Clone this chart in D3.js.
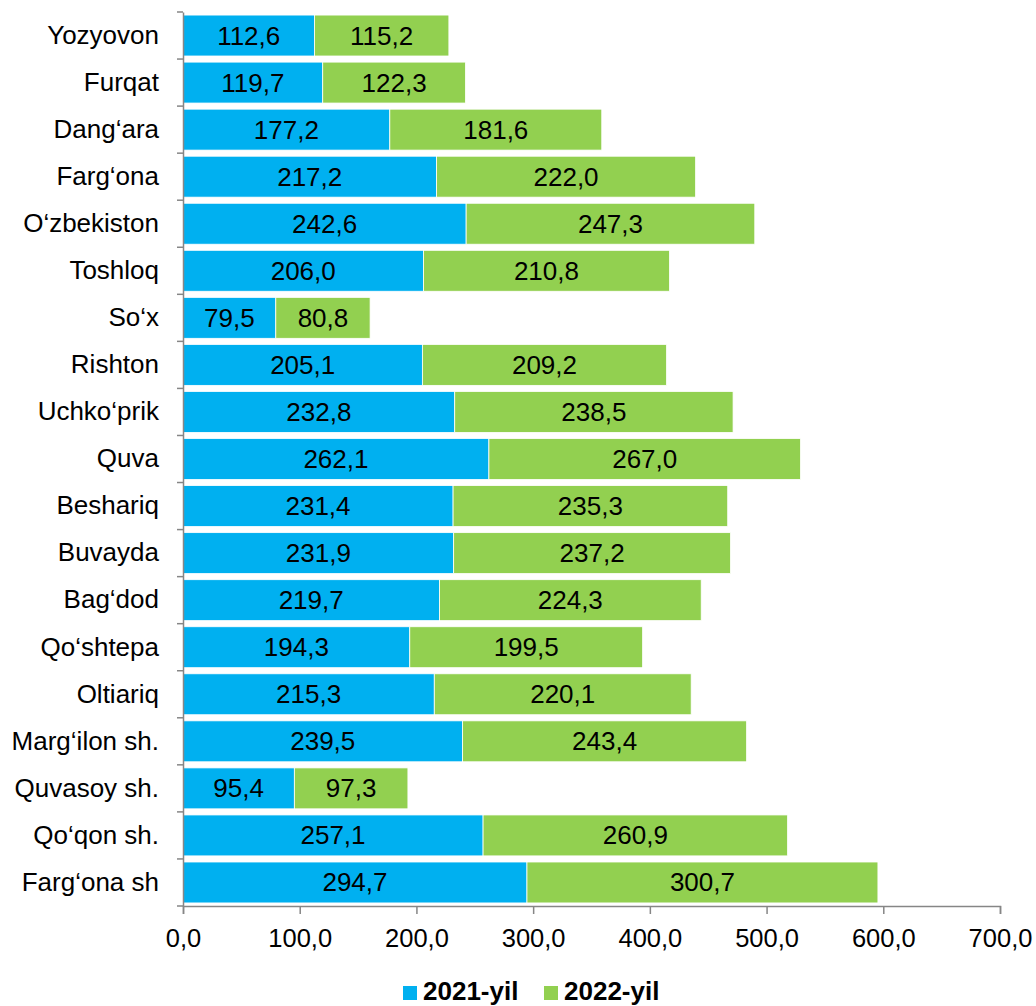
<!DOCTYPE html>
<html><head><meta charset="utf-8">
<script src="https://cdn.jsdelivr.net/npm/d3@7"></script>
<style>body{margin:0;background:#fff}svg{display:block}text{font-family:"Liberation Sans",Arial,sans-serif}</style>
</head><body><svg id="c" width="1036" height="1006"></svg>
<script>
const categories = ["Yozyovon","Furqat","Dang\u2018ara","Farg\u2018ona","O\u2018zbekiston","Toshloq","So\u2018x","Rishton","Uchko\u2018prik","Quva","Beshariq","Buvayda","Bag\u2018dod","Qo\u2018shtepa","Oltiariq","Marg\u2018ilon sh.","Quvasoy sh.","Qo\u2018qon sh.","Farg\u2018ona sh"];
const values2021 = [112.6,119.7,177.2,217.2,242.6,206.0,79.5,205.1,232.8,262.1,231.4,231.9,219.7,194.3,215.3,239.5,95.4,257.1,294.7];
const values2022 = [115.2,122.3,181.6,222.0,247.3,210.8,80.8,209.2,238.5,267.0,235.3,237.2,224.3,199.5,220.1,243.4,97.3,260.9,300.7];
const seriesNames = ["2021-yil","2022-yil"];
const seriesColors = ["#00B0F0","#92D050"];
const xTicks = [0,100,200,300,400,500,600,700];

const svg = d3.select("#c");
const fmt = v => d3.format(".1f")(v).replace(".", ",");
const x = d3.scaleLinear().domain([0,700]).range([183,1000]);
const y = d3.scaleBand().domain(categories).range([12,906]).paddingInner(0.13).paddingOuter(0.065);
const axisColor = "#868686";
const FS = 26;

const rows = categories.map((c,i)=>({c, segs:[{s:0,a:0,b:values2021[i]},{s:1,a:values2021[i],b:values2021[i]+values2022[i]}]}));
const g = svg.append("g");
rows.forEach(r=>{
  r.segs.forEach(s=>{
    g.append("rect").attr("x",x(s.a)).attr("y",y(r.c)).attr("width",x(s.b)-x(s.a)).attr("height",y.bandwidth())
      .attr("fill",seriesColors[s.s]).attr("stroke","#fff").attr("stroke-width",0.8);
    g.append("text").attr("x",(x(s.a)+x(s.b))/2).attr("y",y(r.c)+y.bandwidth()/2).attr("text-anchor","middle")
      .attr("dominant-baseline","central").attr("font-size",FS).attr("fill","#000").text(fmt(s.b-s.a));
  });
});

// x axis
const xa = svg.append("g").attr("transform","translate(0,906)")
  .call(d3.axisBottom(x).tickValues(xTicks).tickFormat(fmt).tickSize(8).tickSizeOuter(8).tickPadding(15));
xa.select(".domain").attr("stroke",axisColor).attr("stroke-width",1.5);
xa.selectAll(".tick line").attr("stroke",axisColor).attr("stroke-width",1.5);
xa.selectAll(".tick text").attr("font-size",25.5).attr("fill","#000").attr("font-family","Liberation Sans, Arial, sans-serif");

// y axis
const ya = svg.append("g").attr("transform","translate(183,0)")
  .call(d3.axisLeft(y).tickSize(0).tickPadding(24));
ya.select(".domain").attr("stroke",axisColor).attr("stroke-width",1.5);
ya.selectAll(".tick text").attr("font-size",FS).attr("fill","#000").attr("font-family","Liberation Sans, Arial, sans-serif");
// category boundary ticks
const bounds = d3.range(categories.length+1).map(i=>12 + i*(894/categories.length));
svg.append("g").selectAll("line").data(bounds).join("line")
  .attr("x1",177).attr("x2",183).attr("y1",d=>d).attr("y2",d=>d).attr("stroke",axisColor).attr("stroke-width",1.5);

// legend
const lg = svg.append("g");
const legX = [403,544];
seriesNames.forEach((n,i)=>{
  lg.append("rect").attr("x",legX[i]).attr("y",986).attr("width",14).attr("height",14).attr("fill",seriesColors[i]);
  lg.append("text").attr("x",legX[i]+20).attr("y",1000)
    .attr("font-size",FS).attr("font-weight","bold").attr("fill","#000").text(n);
});
</script></body></html>
